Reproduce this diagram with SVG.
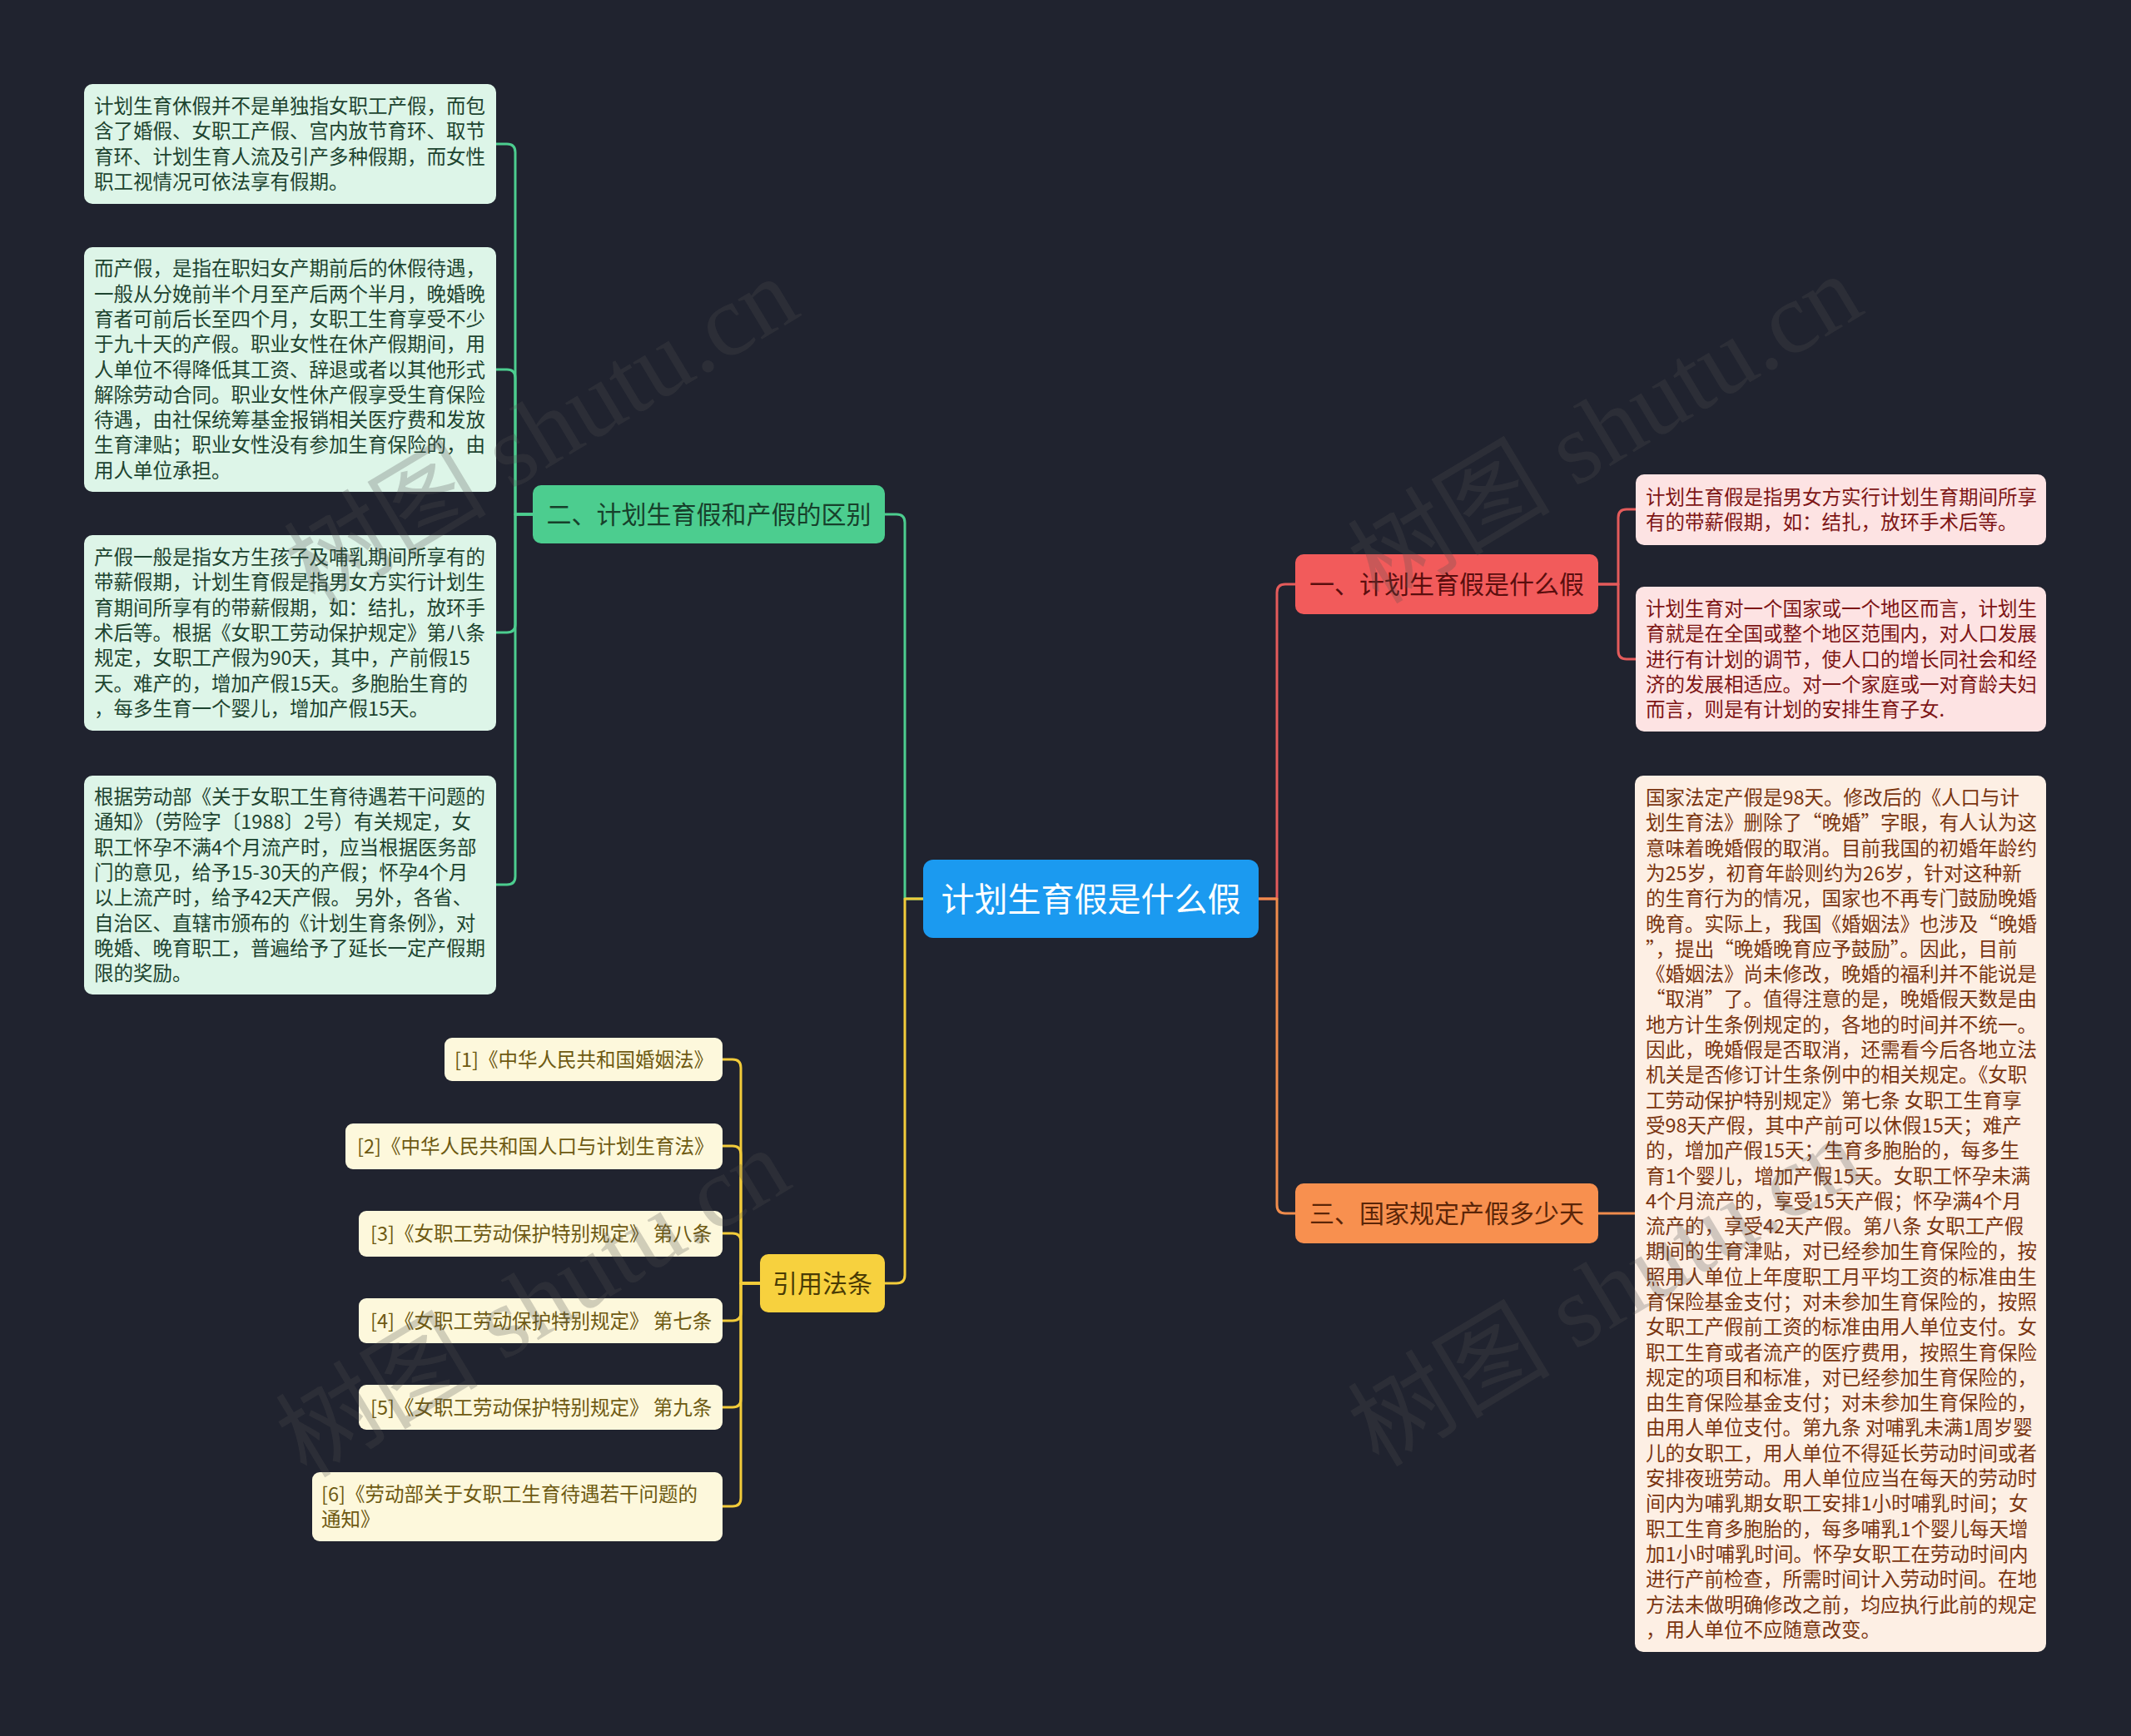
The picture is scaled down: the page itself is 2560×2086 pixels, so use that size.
<svg xmlns="http://www.w3.org/2000/svg" width="2560" height="2086" viewBox="0 0 2560 2086">
<style>
.t{font-family:"Noto Sans CJK SC","Noto Sans",sans-serif;}
.leaf{font-size:23.5px;}
.br{font-size:30px;text-anchor:middle;}
.ln{fill:none;stroke-width:3;stroke-linecap:round;stroke-linejoin:round;}
.g{stroke:#4ccd8f;} .y{stroke:#f2cb3a;} .r{stroke:#e45b5b;} .o{stroke:#f08c4c;}
.wm{font-family:"Liberation Serif","Noto Sans CJK SC",serif;font-size:122px;fill:#525252;fill-opacity:0.26;text-anchor:middle;}
</style>
<rect width="2560" height="2086" fill="#20232f"/>

<g id="connectors">
  <!-- left green children -->
  <path class="ln g" d="M640 618 H619 V183 Q619 173 609 173 H596"/>
  <path class="ln g" d="M640 618 H619 V454 Q619 444 609 444 H596"/>
  <path class="ln g" d="M640 618 H619 V750 Q619 760 609 760 H596"/>
  <path class="ln g" d="M640 618 H619 V1053 Q619 1063 609 1063 H596"/>
  <!-- green branch to center -->
  <path class="ln g" d="M1063 618 H1077 Q1087 618 1087 628 V1080 H1109"/>
  <!-- yellow branch to center -->
  <path class="ln y" d="M1109 1080 H1087 V1532 Q1087 1542 1077 1542 H1063"/>
  <!-- yellow citations -->
  <path class="ln y" d="M913 1542 H890 V1283 Q890 1273 880 1273 H868"/>
  <path class="ln y" d="M913 1542 H890 V1387 Q890 1377 880 1377 H868"/>
  <path class="ln y" d="M913 1542 H890 V1492 Q890 1482 880 1482 H868"/>
  <path class="ln y" d="M913 1542 H890 V1577 Q890 1587 880 1587 H868"/>
  <path class="ln y" d="M913 1542 H890 V1681 Q890 1691 880 1691 H868"/>
  <path class="ln y" d="M913 1542 H890 V1800 Q890 1810 880 1810 H868"/>
  <!-- right red / orange -->
  <path class="ln r" d="M1512 1080 H1534 V712 Q1534 702 1544 702 H1556"/>
  <path class="ln o" d="M1512 1080 H1534 V1448 Q1534 1458 1544 1458 H1556"/>
  <path class="ln r" d="M1920 702 H1944 V622 Q1944 612 1954 612 H1965"/>
  <path class="ln r" d="M1920 702 H1944 V782 Q1944 792 1954 792 H1965"/>
  <path class="ln o" d="M1920 1458 H1964"/>
</g>

<g id="center">
  <rect x="1109" y="1033" width="403" height="94" rx="12" fill="#1b9af0"/>
  <text class="t" x="1310.5" y="1095" font-size="40" text-anchor="middle" fill="#ffffff">计划生育假是什么假</text>
</g>

<g id="branch-2">
  <rect x="640" y="583" width="423" height="70" rx="10" fill="#4ccd8f"/>
  <text class="t br" x="851.5" y="629" fill="#17402b">二、计划生育假和产假的区别</text>
</g>
<g id="branch-1">
  <rect x="1556" y="666" width="364" height="72" rx="10" fill="#f25b5b"/>
  <text class="t br" x="1738" y="713" fill="#5a0e0e">一、计划生育假是什么假</text>
</g>
<g id="branch-3">
  <rect x="1556" y="1422" width="364" height="72" rx="10" fill="#f8904f"/>
  <text class="t br" x="1738" y="1469" fill="#5a2508">三、国家规定产假多少天</text>
</g>
<g id="branch-4">
  <rect x="913" y="1507" width="150" height="70" rx="10" fill="#f7d13e"/>
  <text class="t br" x="988" y="1553" fill="#4a3b05">引用法条</text>
</g>

<g id="l1">
  <rect x="101" y="101" width="495" height="144" rx="10" fill="#ddf5e8"/>
  <text class="t leaf" fill="#1d4430" y="136"><tspan x="113">计划生育休假并不是单独指女职工产假，而包</tspan><tspan x="113" dy="30.3">含了婚假、女职工产假、宫内放节育环、取节</tspan><tspan x="113" dy="30.3">育环、计划生育人流及引产多种假期，而女性</tspan><tspan x="113" dy="30.3">职工视情况可依法享有假期。</tspan></text>
</g>
<g id="l2">
  <rect x="101" y="297" width="495" height="294" rx="10" fill="#ddf5e8"/>
  <text class="t leaf" fill="#1d4430" y="331.3"><tspan x="113">而产假，是指在职妇女产期前后的休假待遇，</tspan><tspan x="113" dy="30.3">一般从分娩前半个月至产后两个半月，晚婚晚</tspan><tspan x="113" dy="30.3">育者可前后长至四个月，女职工生育享受不少</tspan><tspan x="113" dy="30.3">于九十天的产假。职业女性在休产假期间，用</tspan><tspan x="113" dy="30.3">人单位不得降低其工资、辞退或者以其他形式</tspan><tspan x="113" dy="30.3">解除劳动合同。职业女性休产假享受生育保险</tspan><tspan x="113" dy="30.3">待遇，由社保统筹基金报销相关医疗费和发放</tspan><tspan x="113" dy="30.3">生育津贴；职业女性没有参加生育保险的，由</tspan><tspan x="113" dy="30.3">用人单位承担。</tspan></text>
</g>
<g id="l3">
  <rect x="101" y="643" width="495" height="235" rx="10" fill="#ddf5e8"/>
  <text class="t leaf" fill="#1d4430" y="678"><tspan x="113">产假一般是指女方生孩子及哺乳期间所享有的</tspan><tspan x="113" dy="30.3">带薪假期，计划生育假是指男女方实行计划生</tspan><tspan x="113" dy="30.3">育期间所享有的带薪假期，如：结扎，放环手</tspan><tspan x="113" dy="30.3">术后等。根据《女职工劳动保护规定》第八条</tspan><tspan x="113" dy="30.3">规定，女职工产假为90天，其中，产前假15</tspan><tspan x="113" dy="30.3">天。难产的，增加产假15天。多胞胎生育的</tspan><tspan x="113" dy="30.3">，每多生育一个婴儿，增加产假15天。</tspan></text>
</g>
<g id="l4">
  <rect x="101" y="932" width="495" height="263" rx="10" fill="#ddf5e8"/>
  <text class="t leaf" fill="#1d4430" y="966"><tspan x="113">根据劳动部《关于女职工生育待遇若干问题的</tspan><tspan x="113" dy="30.3">通知》（劳险字〔1988〕2号）有关规定，女</tspan><tspan x="113" dy="30.3">职工怀孕不满4个月流产时，应当根据医务部</tspan><tspan x="113" dy="30.3">门的意见，给予15-30天的产假；怀孕4个月</tspan><tspan x="113" dy="30.3">以上流产时，给予42天产假。 另外，各省、</tspan><tspan x="113" dy="30.3">自治区、直辖市颁布的《计划生育条例》，对</tspan><tspan x="113" dy="30.3">晚婚、晚育职工，普遍给予了延长一定产假期</tspan><tspan x="113" dy="30.3">限的奖励。</tspan></text>
</g>

<g id="r1">
  <rect x="1965" y="570" width="493" height="85" rx="10" fill="#fde3e3"/>
  <text class="t leaf" fill="#7d1515" y="606"><tspan x="1977">计划生育假是指男女方实行计划生育期间所享</tspan><tspan x="1977" dy="30.3">有的带薪假期，如：结扎，放环手术后等。</tspan></text>
</g>
<g id="r2">
  <rect x="1965" y="705" width="493" height="174" rx="10" fill="#fde3e3"/>
  <text class="t leaf" fill="#7d1515" y="740"><tspan x="1977">计划生育对一个国家或一个地区而言，计划生</tspan><tspan x="1977" dy="30.3">育就是在全国或整个地区范围内，对人口发展</tspan><tspan x="1977" dy="30.3">进行有计划的调节，使人口的增长同社会和经</tspan><tspan x="1977" dy="30.3">济的发展相适应。对一个家庭或一对育龄夫妇</tspan><tspan x="1977" dy="30.3">而言，则是有计划的安排生育子女.</tspan></text>
</g>
<g id="r3">
  <rect x="1964" y="932" width="494" height="1053" rx="10" fill="#fdefe4"/>
  <text class="t leaf" fill="#7a3510" y="967"><tspan x="1977">国家法定产假是98天。修改后的《人口与计</tspan><tspan x="1977" dy="30.3">划生育法》删除了“晚婚”字眼，有人认为这</tspan><tspan x="1977" dy="30.3">意味着晚婚假的取消。目前我国的初婚年龄约</tspan><tspan x="1977" dy="30.3">为25岁，初育年龄则约为26岁，针对这种新</tspan><tspan x="1977" dy="30.3">的生育行为的情况，国家也不再专门鼓励晚婚</tspan><tspan x="1977" dy="30.3">晚育。实际上，我国《婚姻法》也涉及“晚婚</tspan><tspan x="1977" dy="30.3">”，提出“晚婚晚育应予鼓励”。因此，目前</tspan><tspan x="1977" dy="30.3">《婚姻法》尚未修改，晚婚的福利并不能说是</tspan><tspan x="1977" dy="30.3">“取消”了。值得注意的是，晚婚假天数是由</tspan><tspan x="1977" dy="30.3">地方计生条例规定的，各地的时间并不统一。</tspan><tspan x="1977" dy="30.3">因此，晚婚假是否取消，还需看今后各地立法</tspan><tspan x="1977" dy="30.3">机关是否修订计生条例中的相关规定。《女职</tspan><tspan x="1977" dy="30.3">工劳动保护特别规定》第七条 女职工生育享</tspan><tspan x="1977" dy="30.3">受98天产假，其中产前可以休假15天；难产</tspan><tspan x="1977" dy="30.3">的，增加产假15天；生育多胞胎的，每多生</tspan><tspan x="1977" dy="30.3">育1个婴儿，增加产假15天。女职工怀孕未满</tspan><tspan x="1977" dy="30.3">4个月流产的，享受15天产假；怀孕满4个月</tspan><tspan x="1977" dy="30.3">流产的，享受42天产假。第八条 女职工产假</tspan><tspan x="1977" dy="30.3">期间的生育津贴，对已经参加生育保险的，按</tspan><tspan x="1977" dy="30.3">照用人单位上年度职工月平均工资的标准由生</tspan><tspan x="1977" dy="30.3">育保险基金支付；对未参加生育保险的，按照</tspan><tspan x="1977" dy="30.3">女职工产假前工资的标准由用人单位支付。女</tspan><tspan x="1977" dy="30.3">职工生育或者流产的医疗费用，按照生育保险</tspan><tspan x="1977" dy="30.3">规定的项目和标准，对已经参加生育保险的，</tspan><tspan x="1977" dy="30.3">由生育保险基金支付；对未参加生育保险的，</tspan><tspan x="1977" dy="30.3">由用人单位支付。第九条 对哺乳未满1周岁婴</tspan><tspan x="1977" dy="30.3">儿的女职工，用人单位不得延长劳动时间或者</tspan><tspan x="1977" dy="30.3">安排夜班劳动。用人单位应当在每天的劳动时</tspan><tspan x="1977" dy="30.3">间内为哺乳期女职工安排1小时哺乳时间；女</tspan><tspan x="1977" dy="30.3">职工生育多胞胎的，每多哺乳1个婴儿每天增</tspan><tspan x="1977" dy="30.3">加1小时哺乳时间。怀孕女职工在劳动时间内</tspan><tspan x="1977" dy="30.3">进行产前检查，所需时间计入劳动时间。在地</tspan><tspan x="1977" dy="30.3">方法未做明确修改之前，均应执行此前的规定</tspan><tspan x="1977" dy="30.3">，用人单位不应随意改变。</tspan></text>
</g>

<g id="c1">
  <rect x="534" y="1247" width="334" height="52" rx="9" fill="#fdf8dc"/>
  <text class="t leaf" fill="#6e5a12" x="546" y="1281.5">[1]《中华人民共和国婚姻法》</text>
</g>
<g id="c2">
  <rect x="415" y="1350" width="453" height="55" rx="9" fill="#fdf8dc"/>
  <text class="t leaf" fill="#6e5a12" x="429" y="1386">[2]《中华人民共和国人口与计划生育法》</text>
</g>
<g id="c3">
  <rect x="431" y="1455" width="437" height="55" rx="9" fill="#fdf8dc"/>
  <text class="t leaf" fill="#6e5a12" x="445" y="1491">[3]《女职工劳动保护特别规定》 第八条</text>
</g>
<g id="c4">
  <rect x="431" y="1560" width="437" height="54" rx="9" fill="#fdf8dc"/>
  <text class="t leaf" fill="#6e5a12" x="445" y="1595.5">[4]《女职工劳动保护特别规定》 第七条</text>
</g>
<g id="c5">
  <rect x="431" y="1664" width="437" height="54" rx="9" fill="#fdf8dc"/>
  <text class="t leaf" fill="#6e5a12" x="445" y="1699.5">[5]《女职工劳动保护特别规定》 第九条</text>
</g>
<g id="c6">
  <rect x="375" y="1769" width="493" height="83" rx="9" fill="#fdf8dc"/>
  <text class="t leaf" fill="#6e5a12" y="1804"><tspan x="386">[6]《劳动部关于女职工生育待遇若干问题的</tspan><tspan x="386" dy="30.3">通知》</tspan></text>
</g>

<g id="watermarks">
  <text class="wm" transform="translate(650,518) rotate(-31)" y="42">树图 shutu.cn</text>
  <text class="wm" transform="translate(1928,515) rotate(-31)" y="42">树图 shutu.cn</text>
  <text class="wm" transform="translate(640,1565) rotate(-31)" y="42">树图 shutu.cn</text>
  <text class="wm" transform="translate(1928,1552) rotate(-31)" y="42">树图 shutu.cn</text>
</g>
</svg>
